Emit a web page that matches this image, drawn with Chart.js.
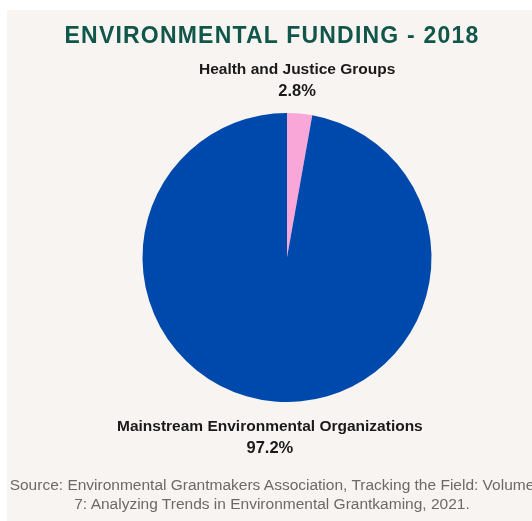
<!DOCTYPE html>
<html>
<head>
<meta charset="utf-8">
<script src="https://cdn.jsdelivr.net/npm/chart.js@4/dist/chart.umd.min.js"></script>
<style>
  html, body { margin: 0; padding: 0; background: #ffffff; overflow: hidden; }
  #wrap { position: absolute; left: 7px; top: 10px; width: 530px; height: 511px; background: #f8f4f1; overflow: hidden; }
  #title { position: absolute; left: 0; top: 12px; width: 530px; text-align: center; font: bold 23px "Liberation Sans", Arial, sans-serif; letter-spacing: 1.2px; color: #10564a; }
  #source { position: absolute; left: -50px; top: 465px; width: 630px; text-align: center; font: 15.5px "Liberation Sans", Arial, sans-serif; color: #6a6a6a; line-height: 19px; }
  #pie { position: absolute; left: 0; top: 0; }
</style>
</head>
<body>
<div id="wrap">
  <canvas id="pie" width="530" height="511"></canvas>
  <div id="title">ENVIRONMENTAL FUNDING - 2018</div>
  <div id="source">Source: Environmental Grantmakers Association, Tracking the Field: Volume<br>7: Analyzing Trends in Environmental Grantkaming, 2021.</div>
</div>
<script>
var categories = ['Health and Justice Groups', 'Mainstream Environmental Organizations'];
var shares = [2.8, 97.2];
var colors = ['#f9a6d9', '#0049ac'];

var sliceLabels = {
  id: 'sliceLabels',
  afterDraw: function(chart) {
    var ctx = chart.ctx;
    var arcs = chart.getDatasetMeta(0).data;
    ctx.save();
    ctx.fillStyle = '#1a1a1a';
    ctx.textAlign = 'center';
    ctx.textBaseline = 'middle';
    arcs.forEach(function(arc, i) {
      var mid = (arc.startAngle + arc.endAngle) / 2;
      var x, y;
      if (Math.sin(mid) < 0) {
        x = arc.x + Math.cos(mid) * arc.outerRadius * 0.8;
        y = arc.y - arc.outerRadius - 43;
      } else {
        x = arc.x + Math.cos(mid) * arc.outerRadius * 1.35;
        y = arc.y + arc.outerRadius + 25;
      }
      ctx.font = 'bold 15.5px "Liberation Sans", Arial, sans-serif';
      ctx.fillText(categories[i], x, y);
      ctx.font = 'bold 16.5px "Liberation Sans", Arial, sans-serif';
      ctx.fillText(shares[i].toFixed(1) + '%', x, y + 21);
    });
    ctx.restore();
  }
};

var chrt = document.getElementById('pie').getContext('2d');
var chartId = new Chart(chrt, {
  type: 'pie',
  data: {
    labels: categories,
    datasets: [{
      data: shares,
      backgroundColor: colors,
      borderWidth: 0
    }]
  },
  options: {
    responsive: false,
    animation: false,
    layout: {
      padding: { left: 135.5, right: 105.5, top: 103, bottom: 119 }
    },
    plugins: {
      legend: { display: false },
      tooltip: { enabled: false }
    }
  },
  plugins: [sliceLabels]
});
</script>
</body>
</html>
